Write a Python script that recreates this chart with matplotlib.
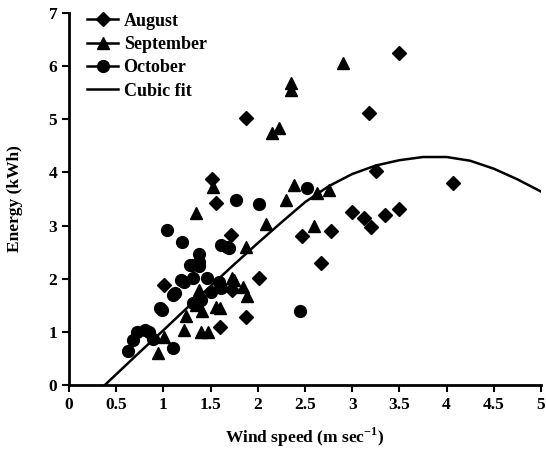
import numpy as np
import matplotlib
matplotlib.use("Agg")
import matplotlib.pyplot as plt

plt.rcParams['font.family'] = ['Liberation Serif', 'DejaVu Serif']
plt.rcParams['font.weight'] = 'bold'
plt.rcParams['mathtext.fontset'] = 'custom'
plt.rcParams['mathtext.rm'] = 'Liberation Serif:bold'

# August (diamonds)
aug_x = [3.50, 1.87, 3.18, 1.52, 1.56, 3.25, 4.07, 3.00, 3.13, 3.20, 3.35, 3.50,
         2.47, 2.78, 2.67, 1.72, 2.01, 1.01, 1.87, 1.60, 1.73]
aug_y = [6.25, 5.03, 5.12, 3.87, 3.42, 4.03, 3.80, 3.25, 3.15, 2.98, 3.20, 3.32,
         2.80, 2.90, 2.30, 2.82, 2.01, 1.88, 1.28, 1.10, 1.79]

# September (triangles)
sep_x = [2.90, 2.35, 2.35, 2.15, 2.22, 1.53, 2.38, 2.75, 2.63, 2.30, 2.60, 2.09,
         1.35, 1.87, 0.94, 1.01, 1.24, 1.22, 1.38, 1.35, 1.41, 1.56, 1.40, 1.47,
         1.73, 1.84, 1.89, 1.75, 1.60]
sep_y = [6.05, 5.68, 5.55, 4.75, 4.83, 3.72, 3.77, 3.67, 3.61, 3.48, 2.99, 3.03,
         3.24, 2.59, 0.60, 0.90, 1.30, 1.04, 1.79, 1.50, 1.40, 1.47, 1.00, 1.00,
         2.01, 1.85, 1.67, 1.98, 1.45]

# October (circles)
oct_x = [2.45, 2.52, 2.01, 1.77, 1.04, 1.20, 1.38, 1.30, 1.38, 1.22, 1.59, 1.61,
         1.31, 1.67, 1.61, 1.12, 0.96, 1.31, 0.62, 0.68, 0.72, 0.80, 0.85, 0.89,
         1.10, 1.19, 1.28, 1.46, 1.70, 1.38, 0.98, 1.10, 1.40, 1.50]
oct_y = [1.40, 3.70, 3.41, 3.48, 2.92, 2.70, 2.47, 2.26, 2.23, 1.94, 1.94, 1.83,
         2.01, 2.60, 2.63, 1.73, 1.45, 1.54, 0.64, 0.85, 1.00, 1.04, 1.00, 0.87,
         0.70, 1.98, 2.26, 2.01, 2.58, 2.32, 1.41, 1.69, 1.60, 1.75]

# cubic fit curve
fit_x = [0.38, 0.75, 1.0, 1.25, 1.5, 1.75, 2.0, 2.25, 2.5, 2.75, 3.0, 3.25,
         3.5, 3.75, 4.0, 4.25, 4.5, 4.75, 5.0]
fit_y = [0.0, 0.62, 1.03, 1.45, 1.86, 2.27, 2.67, 3.06, 3.44, 3.74, 3.97, 4.13,
         4.23, 4.29, 4.29, 4.22, 4.07, 3.87, 3.64]

fig = plt.figure(figsize=(5.46, 4.51), dpi=100)
ax = fig.add_axes([69 / 546, 66 / 451, 472 / 546, 372 / 451])

ax.plot(aug_x, aug_y, 'kD', markersize=7, linestyle='-', linewidth=0, label='August')
ax.plot(sep_x, sep_y, 'k^', markersize=9, linestyle='-', linewidth=0, label='September')
ax.plot(oct_x, oct_y, 'ko', markersize=8.5, linestyle='-', linewidth=0, label='October')
ax.plot(fit_x, fit_y, 'k-', linewidth=1.8, label='Cubic fit')

ax.set_xlim(0, 5)
ax.set_ylim(0, 7)
ax.set_xticks(np.arange(0, 5.01, 0.5))
ax.set_xticklabels(['0', '0.5', '1', '1.5', '2', '2.5', '3', '3.5', '4', '4.5', '5'])
ax.set_yticks(range(0, 8))

for s in ['top', 'right']:
    ax.spines[s].set_visible(False)
for s in ['left', 'bottom']:
    ax.spines[s].set_linewidth(2)
ax.tick_params(direction='out', length=5, width=1.5, labelsize=12.5)
ax.set_xlabel('Wind speed (m sec$^{-1}$)', fontsize=12.5, fontweight='bold', labelpad=9)
ax.set_ylabel('Energy (kWh)', fontsize=12.5, fontweight='bold', labelpad=18)

leg = ax.legend(loc='upper left', frameon=False, fontsize=13, handlelength=1.7,
                handletextpad=0.3, borderaxespad=0.1, labelspacing=0.35,
                bbox_to_anchor=(0.02, 1.025))
for h in leg.legend_handles[:3]:
    h.set_linewidth(1.8)

fig.savefig('out.png', dpi=100)
